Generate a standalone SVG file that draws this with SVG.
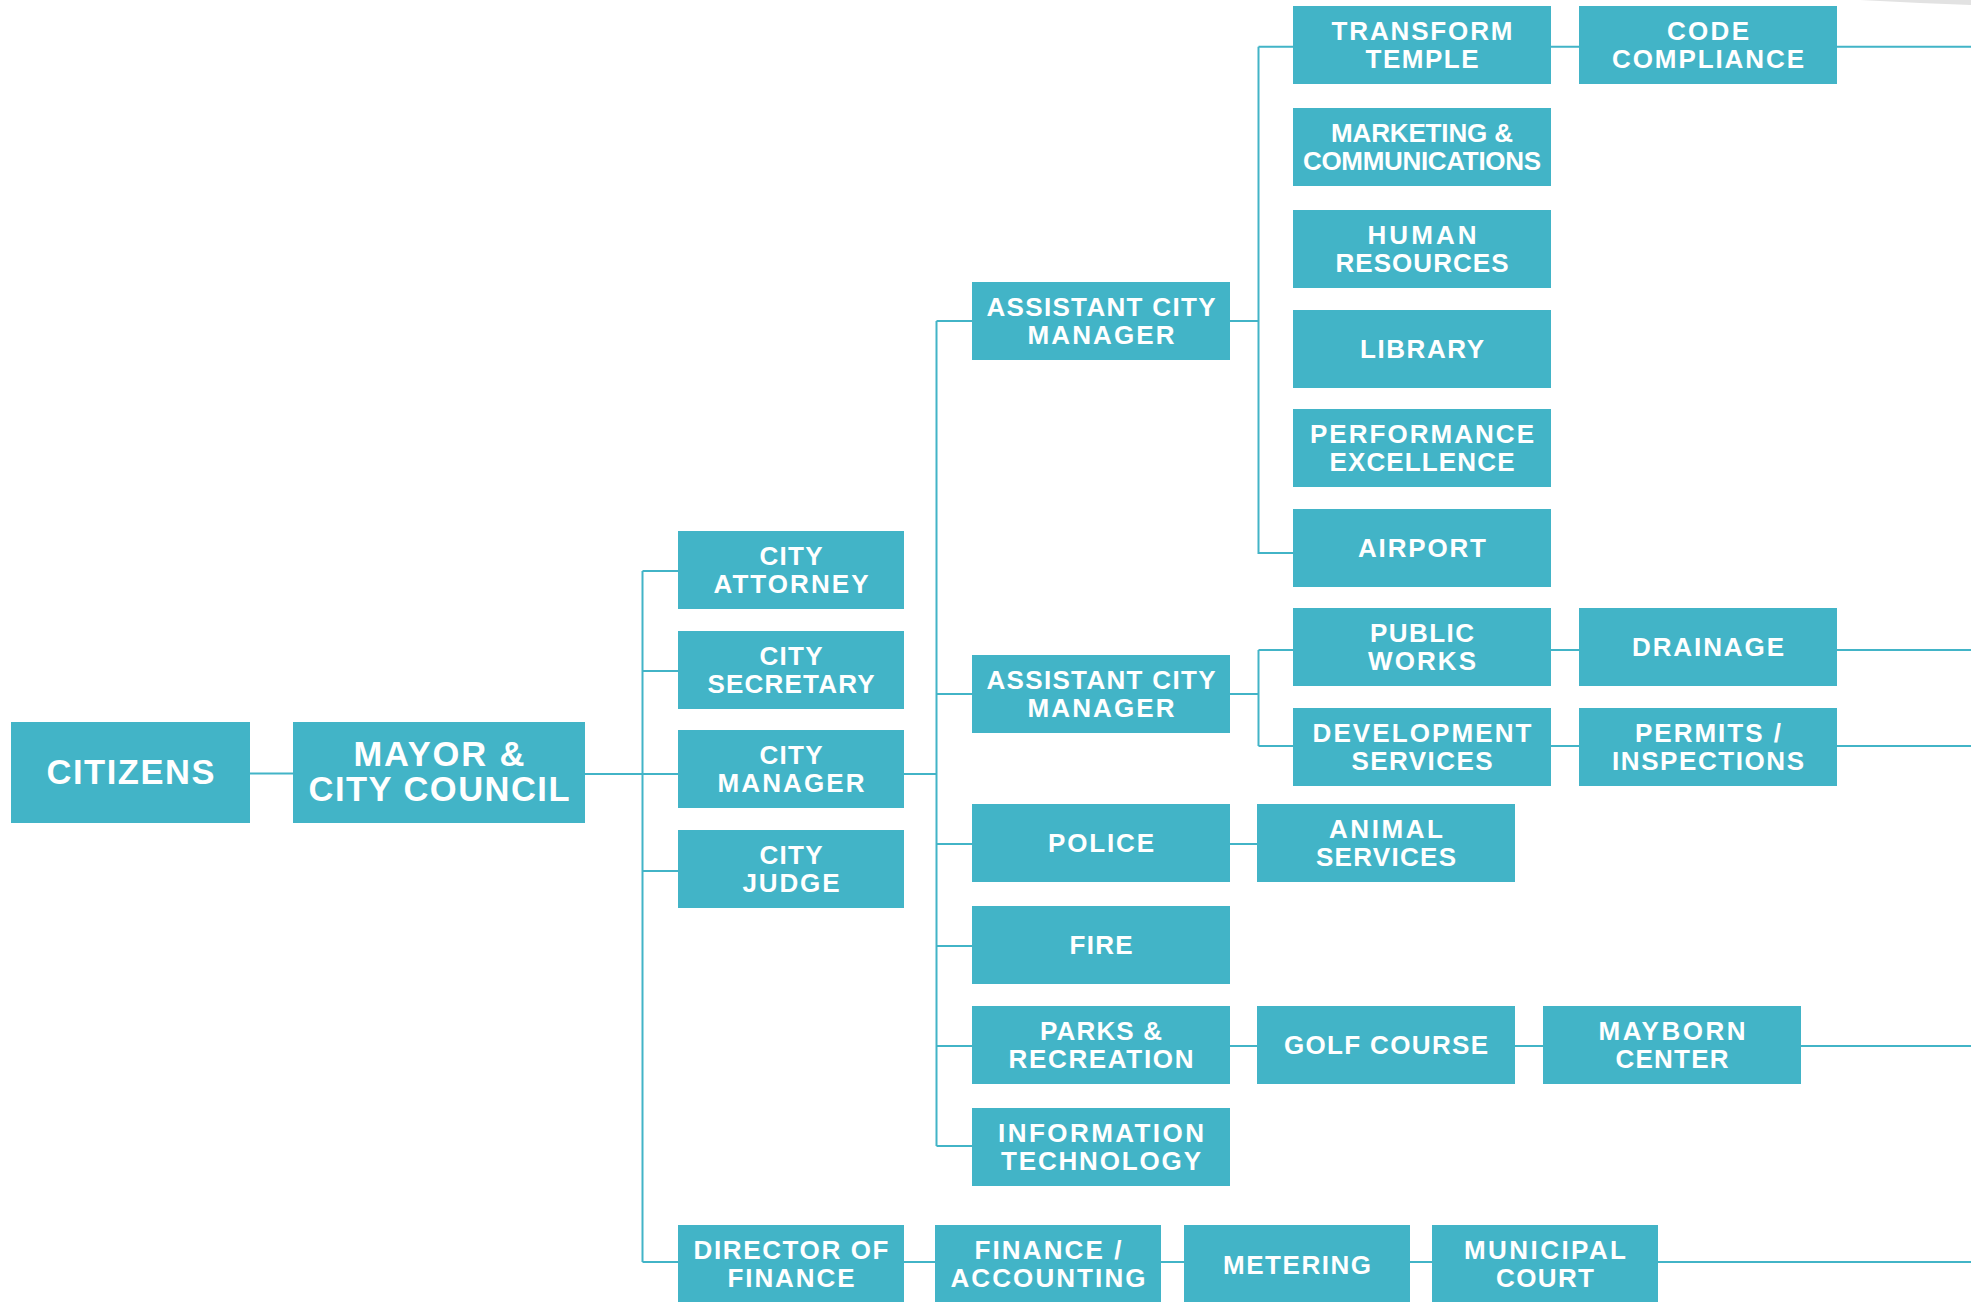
<svg xmlns="http://www.w3.org/2000/svg" width="1971" height="1302" viewBox="0 0 1971 1302">
<style>
.box{fill:#42b4c7}
.t{fill:#ffffff;font-family:"Liberation Sans",Arial,sans-serif;font-weight:700;font-size:26px;text-anchor:middle}
.tb{fill:#ffffff;font-family:"Liberation Sans",Arial,sans-serif;font-weight:700;font-size:34.5px;text-anchor:middle}
.c{stroke:#42b4c7;stroke-width:2;fill:none}
</style>
<rect width="1971" height="1302" fill="#ffffff"/>
<polygon points="1860,0 1971,0 1971,5 1920,3" fill="#e2e2e2"/>
<g id="connectors" class="c">
<path d="M250,773.5H293"/>
<path d="M585,774H678"/>
<path d="M642.5,571V1262"/>
<path d="M642.5,571H678M642.5,671H678M642.5,871H678M642.5,1262H678"/>
<path d="M904,774H936.5"/>
<path d="M936.5,321V1146"/>
<path d="M936.5,321H972M936.5,694H972M936.5,844H972M936.5,946H972M936.5,1046H972M936.5,1146H972"/>
<path d="M1230,321H1258.5"/>
<path d="M1258.5,46.7V553H1293M1258.5,46.7H1293"/>
<path d="M1551,46.7H1579M1837,46.7H1971"/>
<path d="M1230,694H1258.5M1258.5,650V746M1258.5,650H1293M1258.5,746H1293"/>
<path d="M1551,650H1579M1837,650H1971"/>
<path d="M1551,746H1579M1837,746H1971"/>
<path d="M1230,844H1257"/>
<path d="M1230,1046H1257M1515,1046H1543M1801,1046H1971"/>
<path d="M904,1262H935M1161,1262H1184M1410,1262H1432M1658,1262H1971"/>
</g>
<g id="citizens"><rect class="box" x="11" y="722" width="239" height="101"/><text class="tb" x="130.5" y="784" textLength="168">CITIZENS</text></g>
<g id="mayor"><rect class="box" x="293" y="722" width="292" height="101"/><text class="tb" x="439" y="765.7" textLength="171">MAYOR &amp;</text><text class="tb" x="439" y="800.7" textLength="261">CITY COUNCIL</text></g>
<g id="city-attorney"><rect class="box" x="678" y="531" width="226" height="78"/><text class="t" x="791" y="565" textLength="63">CITY</text><text class="t" x="791" y="592.7" textLength="155">ATTORNEY</text></g>
<g id="city-secretary"><rect class="box" x="678" y="631" width="226" height="78"/><text class="t" x="791" y="665" textLength="63">CITY</text><text class="t" x="791" y="692.7" textLength="167">SECRETARY</text></g>
<g id="city-manager"><rect class="box" x="678" y="730" width="226" height="78"/><text class="t" x="791" y="764" textLength="63">CITY</text><text class="t" x="791" y="791.7" textLength="147">MANAGER</text></g>
<g id="city-judge"><rect class="box" x="678" y="830" width="226" height="78"/><text class="t" x="791" y="864" textLength="63">CITY</text><text class="t" x="791" y="891.7" textLength="97">JUDGE</text></g>
<g id="director-of-finance"><rect class="box" x="678" y="1225" width="226" height="78"/><text class="t" x="791" y="1259" textLength="195">DIRECTOR OF</text><text class="t" x="791" y="1286.7" textLength="127">FINANCE</text></g>
<g id="finance-accounting"><rect class="box" x="935" y="1225" width="226" height="78"/><text class="t" x="1048" y="1259" textLength="147">FINANCE /</text><text class="t" x="1048" y="1286.7" textLength="195">ACCOUNTING</text></g>
<g id="metering"><rect class="box" x="1184" y="1225" width="226" height="78"/><text class="t" x="1297" y="1274" textLength="148">METERING</text></g>
<g id="municipal-court"><rect class="box" x="1432" y="1225" width="226" height="78"/><text class="t" x="1545" y="1259" textLength="162">MUNICIPAL</text><text class="t" x="1545" y="1286.7" textLength="98">COURT</text></g>
<g id="acm-1"><rect class="box" x="972" y="282" width="258" height="78"/><text class="t" x="1101" y="316" textLength="229">ASSISTANT CITY</text><text class="t" x="1101" y="343.7" textLength="147">MANAGER</text></g>
<g id="acm-2"><rect class="box" x="972" y="655" width="258" height="78"/><text class="t" x="1101" y="689" textLength="229">ASSISTANT CITY</text><text class="t" x="1101" y="716.7" textLength="147">MANAGER</text></g>
<g id="police"><rect class="box" x="972" y="804" width="258" height="78"/><text class="t" x="1101" y="852" textLength="106">POLICE</text></g>
<g id="fire"><rect class="box" x="972" y="906" width="258" height="78"/><text class="t" x="1101" y="954" textLength="63">FIRE</text></g>
<g id="parks"><rect class="box" x="972" y="1006" width="258" height="78"/><text class="t" x="1101" y="1040" textLength="122">PARKS &amp;</text><text class="t" x="1101" y="1067.7" textLength="185">RECREATION</text></g>
<g id="it"><rect class="box" x="972" y="1108" width="258" height="78"/><text class="t" x="1101" y="1142" textLength="206">INFORMATION</text><text class="t" x="1101" y="1169.7" textLength="200">TECHNOLOGY</text></g>
<g id="transform-temple"><rect class="box" x="1293" y="6" width="258" height="78"/><text class="t" x="1422" y="40" textLength="181">TRANSFORM</text><text class="t" x="1422" y="67.7" textLength="113">TEMPLE</text></g>
<g id="marketing"><rect class="box" x="1293" y="108" width="258" height="78"/><text class="t" x="1422" y="142" textLength="182">MARKETING &amp;</text><text class="t" x="1422" y="169.7" textLength="238">COMMUNICATIONS</text></g>
<g id="hr"><rect class="box" x="1293" y="210" width="258" height="78"/><text class="t" x="1422" y="244" textLength="109">HUMAN</text><text class="t" x="1422" y="271.7" textLength="173">RESOURCES</text></g>
<g id="library"><rect class="box" x="1293" y="310" width="258" height="78"/><text class="t" x="1422" y="358" textLength="124">LIBRARY</text></g>
<g id="performance"><rect class="box" x="1293" y="409" width="258" height="78"/><text class="t" x="1422" y="443" textLength="224">PERFORMANCE</text><text class="t" x="1422" y="470.7" textLength="185">EXCELLENCE</text></g>
<g id="airport"><rect class="box" x="1293" y="509" width="258" height="78"/><text class="t" x="1422" y="557" textLength="128">AIRPORT</text></g>
<g id="public-works"><rect class="box" x="1293" y="608" width="258" height="78"/><text class="t" x="1422" y="642" textLength="104">PUBLIC</text><text class="t" x="1422" y="669.7" textLength="108">WORKS</text></g>
<g id="development-services"><rect class="box" x="1293" y="708" width="258" height="78"/><text class="t" x="1422" y="742" textLength="219">DEVELOPMENT</text><text class="t" x="1422" y="769.7" textLength="141">SERVICES</text></g>
<g id="code-compliance"><rect class="box" x="1579" y="6" width="258" height="78"/><text class="t" x="1708" y="40" textLength="82">CODE</text><text class="t" x="1708" y="67.7" textLength="192">COMPLIANCE</text></g>
<g id="drainage"><rect class="box" x="1579" y="608" width="258" height="78"/><text class="t" x="1708" y="656" textLength="152">DRAINAGE</text></g>
<g id="permits"><rect class="box" x="1579" y="708" width="258" height="78"/><text class="t" x="1708" y="742" textLength="146">PERMITS /</text><text class="t" x="1708" y="769.7" textLength="192">INSPECTIONS</text></g>
<g id="animal-services"><rect class="box" x="1257" y="804" width="258" height="78"/><text class="t" x="1386" y="838" textLength="114">ANIMAL</text><text class="t" x="1386" y="865.7" textLength="140">SERVICES</text></g>
<g id="golf-course"><rect class="box" x="1257" y="1006" width="258" height="78"/><text class="t" x="1386" y="1054" textLength="204">GOLF COURSE</text></g>
<g id="mayborn"><rect class="box" x="1543" y="1006" width="258" height="78"/><text class="t" x="1672" y="1040" textLength="147">MAYBORN</text><text class="t" x="1672" y="1067.7" textLength="113">CENTER</text></g>
</svg>
